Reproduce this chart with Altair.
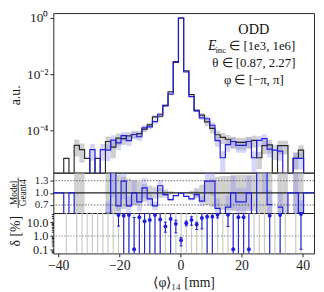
import altair as alt
import pandas as pd

FONT = "Liberation Serif"

# ---------------- data ----------------
X_MIN, X_MAX, N_BINS = -41.6, 43.7, 50

# log10 of the normalised histograms per bin (None = empty bin)
g4_log = [None, None, -5.0, None, -4.54, -4.69, -5.0, None, -5.0, None,
          -4.40, -4.60, -4.28, -4.30, -4.20, -4.15, -4.12, -3.96, -3.81, -3.52,
          -3.50, -3.11, -2.63, -1.55, 0.0, -1.88, -2.73, -3.29, -3.46, -3.70,
          -3.93, -4.16, -4.25, -4.32, -4.40, -4.43, -4.43, -4.40, -4.36, -4.98,
          -4.55, -4.52, None, -4.55, -4.55, None, -5.0, -4.71, None, None]
model_log = [None, None, None, None, None, None, None, -4.69, None, -4.69,
             -4.71, -4.35, -4.45, -4.19, -4.37, -4.15, -4.23, -3.91, -3.88, -3.69,
             -3.43, -3.13, -2.71, -1.58, -0.004, -1.92, -2.80, -3.31, -3.56, -3.59,
             -3.82, -4.37, -4.98, -4.51, -4.40, -4.54, -4.54, -4.40, -4.98, -4.36,
             -4.30, -4.67, -4.71, -4.74, None, None, -5.0, -5.0, None, None]
# relative uncertainties (bands)
g4_err = [0, 0, 0, 0, 0.6, 0.65, 0, 0, 0, 0,
          0.5, 0.6, 0.45, 0.4, 0.35, 0.3, 0.28, 0.22, 0.18, 0.14,
          0.12, 0.08, 0.04, 0.01, 0.003, 0.015, 0.05, 0.12, 0.2, 0.3,
          0.35, 0.4, 0.42, 0.42, 0.45, 0.45, 0.45, 0.45, 0.45, 0.6,
          0.5, 0.5, 0, 0.5, 0.5, 0, 0.6, 0.5, 0, 0]
model_err = [0, 0, 0, 0, 0, 0, 0, 0.6, 0, 0.6,
             0.6, 0.5, 0.45, 0.35, 0.35, 0.3, 0.3, 0.22, 0.2, 0.16,
             0.12, 0.08, 0.04, 0.01, 0.003, 0.015, 0.05, 0.1, 0.15, 0.22,
             0.28, 0.4, 0.7, 0.45, 0.42, 0.45, 0.45, 0.42, 0.7, 0.42,
             0.45, 0.5, 0.55, 0.55, 0, 0, 0.6, 0.6, 0, 0]

# delta [%] panel (bin index, value, error-bar ends; None = runs off the panel)
delta_bins = [12, 13, 14, 15, 16, 17, 18, 19, 20, 21, 22, 23, 24, 25, 26, 27, 28,
              29, 30, 31, 33, 34, 35, 36, 37, 41, 43, 47]
delta_val = [33, 30, 33, 0.11, 23, 11.8, 14.7, 33, 15.5, 4.9, 17.3, 7.6, 0.49, 8.5,
             14.7, 6.8, 20, 25, 25, 35, 35, 0.11, 23, 23, 0.11, 30, 33, 39]
delta_lo = [5.2, None, None, None, None, None, None, None, None, 1.9, None, 1.7, 0.19,
            5.5, 6.0, 3.0, 3.3, None, None, 20, 4.9, None, None, None, None, None,
            None, 0.11]
delta_hi = [None, None, None, 22, None, None, None, None, None, 10, None, 14, 0.76,
            12, 25, 10, None, None, None, None, None, None, None, None, None, None,
            None, None]

x_ticks = [-40, -20, 0, 20, 40]
top_ticks = [1, 0.01, 0.0001]
ratio_ticks = [0.7, 1.0, 1.3]
delta_major = [0.1, 1, 10]
delta_minor = [0.06, 0.07, 0.08, 0.09, 0.2, 0.3, 0.4, 0.5, 0.6, 0.7, 0.8, 0.9,
               2, 3, 4, 5, 6, 7, 8, 9, 20, 30, 40]

ann_lines = ["ODD", "θ ∈ [0.87, 2.27]", "φ ∈ [−π, π]"]
ann_logy = [-0.42, -1.59, -2.21]
ann_size = [14.5, 13, 13]
einc_parts = ["E", "inc", "∈ [1e3, 1e6]"]

# ---------------- scales / geometry ----------------
W = 264.7
H_TOP, H_MID, H_BOT = 162, 41, 41
OUT = 1.5  # px: out-of-range values are parked this far outside the frame

TOP_LOG = [-5.51, 0.175]
TOP_DOM = [10 ** TOP_LOG[0], 10 ** TOP_LOG[1]]
TOP_FLOOR = 10 ** (TOP_LOG[0] - OUT * (TOP_LOG[1] - TOP_LOG[0]) / H_TOP)
R_DOM = [0.5, 1.5]
R_LOW, R_HIGH = 0.5 - OUT / H_MID, 1.5 + OUT / H_MID
D_LOG = [-1.265, 1.665]
D_DOM = [10 ** D_LOG[0], 10 ** D_LOG[1]]
D_B = 10 ** (D_LOG[0] - OUT * (D_LOG[1] - D_LOG[0]) / H_BOT)
D_T = 10 ** (D_LOG[1] + OUT * (D_LOG[1] - D_LOG[0]) / H_BOT)

bw = (X_MAX - X_MIN) / N_BINS
lo = [X_MIN + bw * k for k in range(N_BINS)]
hi = [X_MIN + bw * (k + 1) for k in range(N_BINS)]
ctr = [(a + b) / 2 for a, b in zip(lo, hi)]
g4 = [None if v is None else 10 ** v for v in g4_log]
md = [None if v is None else 10 ** v for v in model_log]

xs = alt.Scale(domain=[X_MIN, X_MAX], nice=False, zero=False)
ys_top = alt.Scale(type="log", domain=TOP_DOM, nice=False)
ys_r = alt.Scale(domain=R_DOM, nice=False, zero=False)
ys_d = alt.Scale(type="log", domain=D_DOM, nice=False)

BLACK = "#2b2b2b"
BLUE = "#2020dc"


def step_df(vals):
    rows = []
    for k in range(N_BINS):
        v = vals[k] if vals[k] is not None else TOP_FLOOR
        rows.append({"x": lo[k], "v": v, "i": 2 * k})
        rows.append({"x": hi[k], "v": v, "i": 2 * k + 1})
    return pd.DataFrame(rows)


def band_df(vals, errs):
    rows = []
    for k in range(N_BINS):
        if vals[k] is None or errs[k] <= 0:
            continue
        rows.append({"x": lo[k], "x2": hi[k],
                     "y": max(vals[k] * (1 - errs[k]), TOP_DOM[0]),
                     "y2": vals[k] * (1 + errs[k])})
    return pd.DataFrame(rows)


# ratio data
r_rows, seg = [], 0
rb_g, rb_m = [], []
for k in range(N_BINS):
    g, m = g4[k], md[k]
    if g is None and m is not None:
        seg += 1
        continue
    if g is None:
        r = 1.0
    elif m is None:
        r = R_LOW
    else:
        r = min(max(m / g, R_LOW), R_HIGH)
    r_rows.append({"x": lo[k], "r": r, "i": 2 * k, "seg": seg})
    r_rows.append({"x": hi[k], "r": r, "i": 2 * k + 1, "seg": seg})
    if g is not None and g4_err[k] > 0:
        rb_g.append({"x": lo[k], "x2": hi[k], "y": max(1 - g4_err[k], R_DOM[0]),
                     "y2": min(1 + g4_err[k], R_DOM[1])})
    if g is not None and m is not None and model_err[k] > 0:
        rr = m / g
        y1, y2 = rr * (1 - model_err[k]), rr * (1 + model_err[k])
        if y1 < R_DOM[1] and y2 > R_DOM[0]:
            rb_m.append({"x": lo[k], "x2": hi[k], "y": max(y1, R_DOM[0]),
                         "y2": min(y2, R_DOM[1])})
ratio_df = pd.DataFrame(r_rows)
rband_g = pd.DataFrame(rb_g)
rband_m = pd.DataFrame(rb_m)

# delta data
d_pts = pd.DataFrame({"x": [ctr[k] for k in delta_bins], "y": delta_val})
d_err = pd.DataFrame({"x": [ctr[k] for k in delta_bins],
                      "y": [D_B if v is None else v for v in delta_lo],
                      "y2": [D_T if v is None else v for v in delta_hi]})
caps = []
for k, a, b in zip(delta_bins, delta_lo, delta_hi):
    for v in (a, b):
        if v is not None:
            caps.append({"x": ctr[k] - 0.5, "x2": ctr[k] + 0.5, "y": v})
d_caps = pd.DataFrame(caps)
d_gray = pd.DataFrame({"x": [ctr[k] for k in range(N_BINS)
                             if g4[k] is not None or md[k] is not None]})
d_gray["y"] = D_DOM[0]
d_gray["y2"] = D_DOM[1]

# ---------------- axes (identical object in every layer so they merge) ----------------
top_axis = alt.Axis(values=top_ticks,
                    labelExpr="datum.value > 0.5 ? '10⁰' : datum.value > 0.005 ? '10⁻²' : '10⁻⁴'",
                    title="a.u.", titleX=-38, titleY=83, titleAngle=270,
                    titleAlign="center", titleBaseline="middle",
                    tickSize=3.5, labelPadding=2, labelOverlap=False)
mid_axis = alt.Axis(values=ratio_ticks, format=".1f", title="", tickSize=3.5,
                    labelPadding=2, labelOverlap=False, labelFontSize=11)
bot_axis = alt.Axis(values=delta_major + delta_minor,
                    labelExpr="datum.value == 0.1 ? '0.1' : datum.value == 1 ? '1.0' : datum.value == 10 ? '10.0' : ''",
                    tickSize={"condition": {"test": "datum.value == 0.1 || datum.value == 1 || datum.value == 10",
                                            "value": 3.5}, "value": 2},
                    title="δ [%]", titleX=-38, titleY=18, titleAngle=270, titleAlign="center",
                    titleBaseline="middle", labelPadding=2, labelOverlap=False, labelFontSize=12.5)
x_axis = alt.Axis(values=x_ticks, title="⟨φ⟩₁₄ [mm]", tickSize=3.5, labelPadding=2,
                  titlePadding=3, labelFontSize=14)

XN = lambda f="x": alt.X(f"{f}:Q", scale=xs, axis=None)
XB = lambda f="x": alt.X(f"{f}:Q", scale=xs, axis=x_axis)
YT = lambda f: alt.Y(f"{f}:Q", scale=ys_top, axis=top_axis)
YR = lambda f: alt.Y(f"{f}:Q", scale=ys_r, axis=mid_axis)
YD = lambda f: alt.Y(f"{f}:Q", scale=ys_d, axis=bot_axis)

# ---------------- top panel ----------------
g_band = alt.Chart(band_df(g4, g4_err)).mark_rect(color="#b0b0b0", opacity=0.6, clip=True).encode(
    x=XN(), x2="x2:Q", y=YT("y"), y2="y2:Q")
m_band = alt.Chart(band_df(md, model_err)).mark_rect(color="#8a8af0", opacity=0.35, clip=True).encode(
    x=XN(), x2="x2:Q", y=YT("y"), y2="y2:Q")
g_step = alt.Chart(step_df(g4)).mark_line(color=BLACK, strokeWidth=1.2, clip=True).encode(
    x=XN(), y=YT("v"), order="i:Q")
m_step = alt.Chart(step_df(md)).mark_line(color=BLUE, strokeWidth=1.2, clip=True).encode(
    x=XN(), y=YT("v"), order="i:Q")

ann_df = pd.DataFrame({"x": [24.0] * len(ann_lines), "y": [10 ** v for v in ann_logy],
                       "t": ann_lines, "s": ann_size})
ann = alt.Chart(ann_df).mark_text(font=FONT, color="#111111", baseline="middle", align="center").encode(
    x=XN(), y=YT("y"), text="t:N", size=alt.Size("s:Q", scale=None, legend=None))
e_df = pd.DataFrame({"x": [15.3], "y": [10 ** -1.007]})
e_main = alt.Chart(e_df).mark_text(font=FONT, fontSize=14, fontStyle="italic", align="right",
                                   baseline="middle", dx=-11, color="#111111", text=einc_parts[0]).encode(
    x=XN(), y=YT("y"))
e_sub = alt.Chart(e_df).mark_text(font=FONT, fontSize=9, align="right", baseline="middle",
                                  dx=-1, dy=4, color="#111111", text=einc_parts[1]).encode(
    x=XN(), y=YT("y"))
e_rest = alt.Chart(e_df).mark_text(font=FONT, fontSize=13, align="left", baseline="middle",
                                   dx=2, color="#111111", text=einc_parts[2]).encode(
    x=XN(), y=YT("y"))

top = alt.layer(g_band, m_band, g_step, m_step, ann, e_main, e_sub, e_rest).properties(
    width=W, height=H_TOP)

# ---------------- ratio panel ----------------
rg = alt.Chart(rband_g).mark_rect(color="#b0b0b0", opacity=0.6, clip=True).encode(
    x=XN(), x2="x2:Q", y=YR("y"), y2="y2:Q")
rm = alt.Chart(rband_m).mark_rect(color="#8a8af0", opacity=0.35, clip=True).encode(
    x=XN(), x2="x2:Q", y=YR("y"), y2="y2:Q")
ref_df = pd.DataFrame({"y": ratio_ticks, "solid": [False, True, False]})
dotted = alt.Chart(ref_df[~ref_df["solid"]]).mark_rule(color="#444444", strokeWidth=0.8,
                                                       strokeDash=[1.5, 1.5]).encode(y=YR("y"))
solid = alt.Chart(ref_df[ref_df["solid"]]).mark_rule(color="#222222", strokeWidth=1.1).encode(y=YR("y"))
r_step = alt.Chart(ratio_df).mark_line(color=BLUE, strokeWidth=1.2, clip=True).encode(
    x=XN(), y=YR("r"), order="i:Q", detail="seg:N")
lab_df = pd.DataFrame({"t": ["Model"]})
lab_df2 = pd.DataFrame({"t": ["Geant4"]})
t_model = alt.Chart(lab_df).mark_text(font=FONT, fontSize=9.5, angle=270, align="center",
                                      baseline="middle", color="#111111").encode(
    x=alt.value(-40.2), y=alt.value(20.5), text="t:N")
t_geant = alt.Chart(lab_df2).mark_text(font=FONT, fontSize=9.5, angle=270, align="center",
                                       baseline="middle", color="#111111").encode(
    x=alt.value(-31), y=alt.value(20.5), text="t:N")
frac_bar = alt.Chart(lab_df).mark_rule(color="#111111", strokeWidth=0.8).encode(
    x=alt.value(-35.6), y=alt.value(5), y2=alt.value(36))
mid = alt.layer(rg, rm, dotted, solid, r_step, t_model, t_geant, frac_bar).properties(
    width=W, height=H_MID)

# ---------------- delta panel ----------------
gray_r = alt.Chart(d_gray).mark_rule(color="#c9c9c9", strokeWidth=1.2, clip=True).encode(
    x=XB(), y=YD("y"), y2="y2:Q")
one_df = pd.DataFrame({"y": [1.0]})
one_r = alt.Chart(one_df).mark_rule(color="#777777", strokeWidth=0.8, strokeDash=[1.5, 1.5]).encode(
    y=YD("y"))
err_r = alt.Chart(d_err).mark_rule(color=BLUE, strokeWidth=1.1, clip=True).encode(
    x=XB(), y=YD("y"), y2="y2:Q")
cap_r = alt.Chart(d_caps).mark_rule(color=BLUE, strokeWidth=1.0, clip=True).encode(
    x=XB(), x2="x2:Q", y=YD("y"))
pts = alt.Chart(d_pts).mark_circle(color=BLUE, size=16, opacity=1, clip=True).encode(
    x=XB(), y=YD("y"))
bot = alt.layer(gray_r, one_r, err_r, cap_r, pts).properties(width=W, height=H_BOT)

chart = alt.vconcat(top, mid, bot, spacing=0, bounds="flush").properties(
    padding={"left": 0, "top": 0, "right": 0, "bottom": 0}
).configure_view(stroke="#262626", strokeWidth=1).configure_axis(
    labelFont=FONT, titleFont=FONT, labelFontSize=13.5, titleFontSize=14,
    labelColor="#1a1a1a", titleColor="#1a1a1a", tickColor="#262626",
    domain=False, grid=False, titleFontWeight="normal")

chart.save("out.html", embed_options={"renderer": "svg", "actions": False})
